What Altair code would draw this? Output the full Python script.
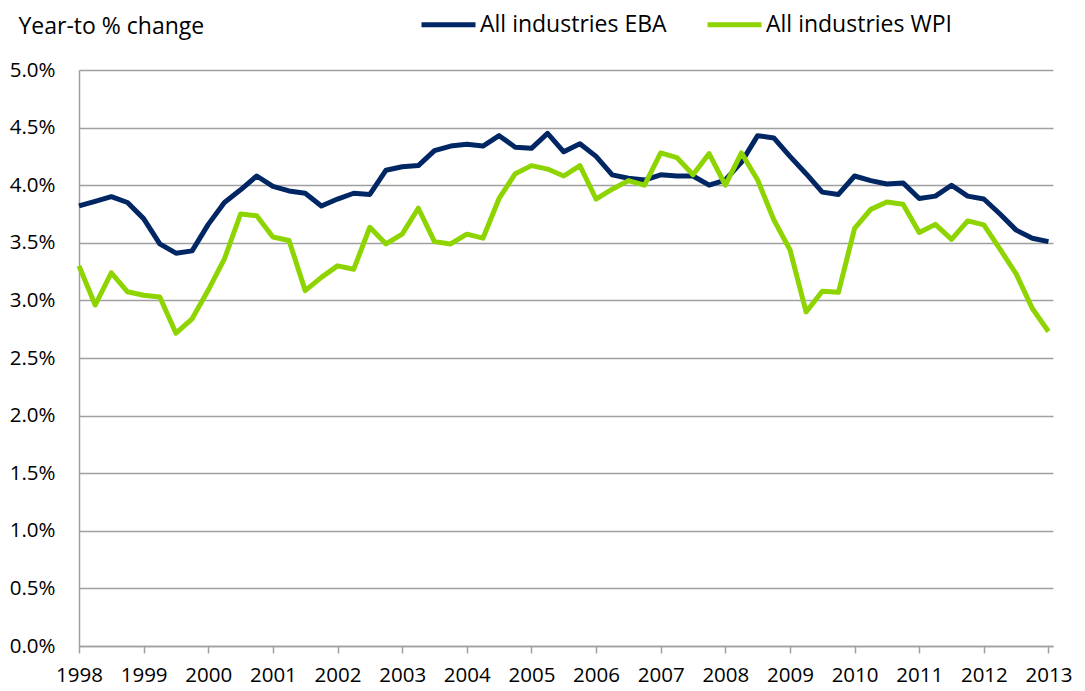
import altair as alt
import pandas as pd

start_year = 1998
n_quarters = 61
quarters = [start_year + i / 4 for i in range(n_quarters)]

eba = [3.82, 3.86, 3.90, 3.85, 3.71, 3.49, 3.41, 3.43, 3.66, 3.85,
       3.96, 4.08, 3.99, 3.95, 3.93, 3.82, 3.88, 3.93, 3.92, 4.13,
       4.16, 4.17, 4.30, 4.34, 4.355, 4.34, 4.43, 4.33, 4.32, 4.45,
       4.29, 4.36, 4.25, 4.09, 4.06, 4.045, 4.09, 4.08, 4.08, 4.00,
       4.045, 4.20, 4.43, 4.41, 4.25, 4.10, 3.94, 3.92, 4.08, 4.04,
       4.01, 4.02, 3.885, 3.905, 4.00, 3.905, 3.88, 3.75, 3.61, 3.54,
       3.51]

wpi = [3.30, 2.96, 3.24, 3.075, 3.045, 3.03, 2.715, 2.84, 3.09, 3.36,
       3.75, 3.735, 3.55, 3.52, 3.085, 3.20, 3.30, 3.27, 3.635, 3.49,
       3.575, 3.80, 3.51, 3.49, 3.575, 3.54, 3.885, 4.10, 4.17, 4.14,
       4.08, 4.17, 3.88, 3.965, 4.04, 4.00, 4.28, 4.24, 4.09, 4.275,
       4.00, 4.28, 4.045, 3.70, 3.44, 2.90, 3.08, 3.07, 3.625, 3.79,
       3.855, 3.835, 3.59, 3.66, 3.53, 3.69, 3.655, 3.445, 3.23, 2.93,
       2.73]

series_names = ["All industries EBA", "All industries WPI"]
series_colors = ["#002664", "#8DD400"]
year_ticks = list(range(1998, 2014))
y_ticks = [i * 0.5 for i in range(11)]

rows = []
for q, v in zip(quarters, eba):
    rows.append({"t": q, "value": v, "series": series_names[0]})
for q, v in zip(quarters, wpi):
    rows.append({"t": q, "value": v, "series": series_names[1]})
df = pd.DataFrame(rows)

FONT = "Open Sans, sans-serif"

chart = alt.Chart(df).mark_line(strokeWidth=5, strokeJoin="round", strokeCap="butt").encode(
    x=alt.X("t:Q",
            scale=alt.Scale(domain=[1998, 2013.07], nice=False, zero=False),
            axis=alt.Axis(values=year_ticks, format="d", title=None, grid=False,
                          domainColor="#a0a0a0", domainWidth=1.5,
                          tickColor="#a0a0a0", tickWidth=1.5, tickSize=7,
                          labelPadding=12, labelFontSize=20.5, labelColor="#000000",
                          labelFont=FONT, labelFlush=False)),
    y=alt.Y("value:Q",
            scale=alt.Scale(domain=[0, 5], nice=False),
            axis=alt.Axis(values=y_ticks, labelExpr="format(datum.value, '.1f') + '%'",
                          title="Year-to % change", titleAngle=0, titleAlign="left",
                          titleBaseline="alphabetic", titleX=-61, titleY=-37,
                          titleFontSize=23, titleFontWeight="normal", titleFont=FONT,
                          titleColor="#000000",
                          grid=True, gridColor="#a0a0a0", gridWidth=1.5,
                          domainColor="#a0a0a0", domainWidth=1.5,
                          ticks=False, labelPadding=24, labelFontSize=20.5,
                          labelColor="#000000", labelFont=FONT)),
    color=alt.Color("series:N",
                    scale=alt.Scale(domain=series_names, range=series_colors),
                    legend=alt.Legend(title=None, orient="none", direction="horizontal",
                                      legendX=340, legendY=-75, padding=0,
                                      symbolType="stroke", symbolStrokeWidth=5,
                                      symbolSize=2916, labelFontSize=23,
                                      labelFont=FONT, labelColor="#000000",
                                      labelOffset=2, columnPadding=30,
                                      labelLimit=400)),
).properties(
    width=974,
    height=576,
    padding={"left": 71, "top": 62, "right": 22, "bottom": 40},
    autosize=alt.AutoSizeParams(type="none"),
).configure_view(stroke=None)

chart.save("out.html", embed_options={"renderer": "svg", "actions": False})
